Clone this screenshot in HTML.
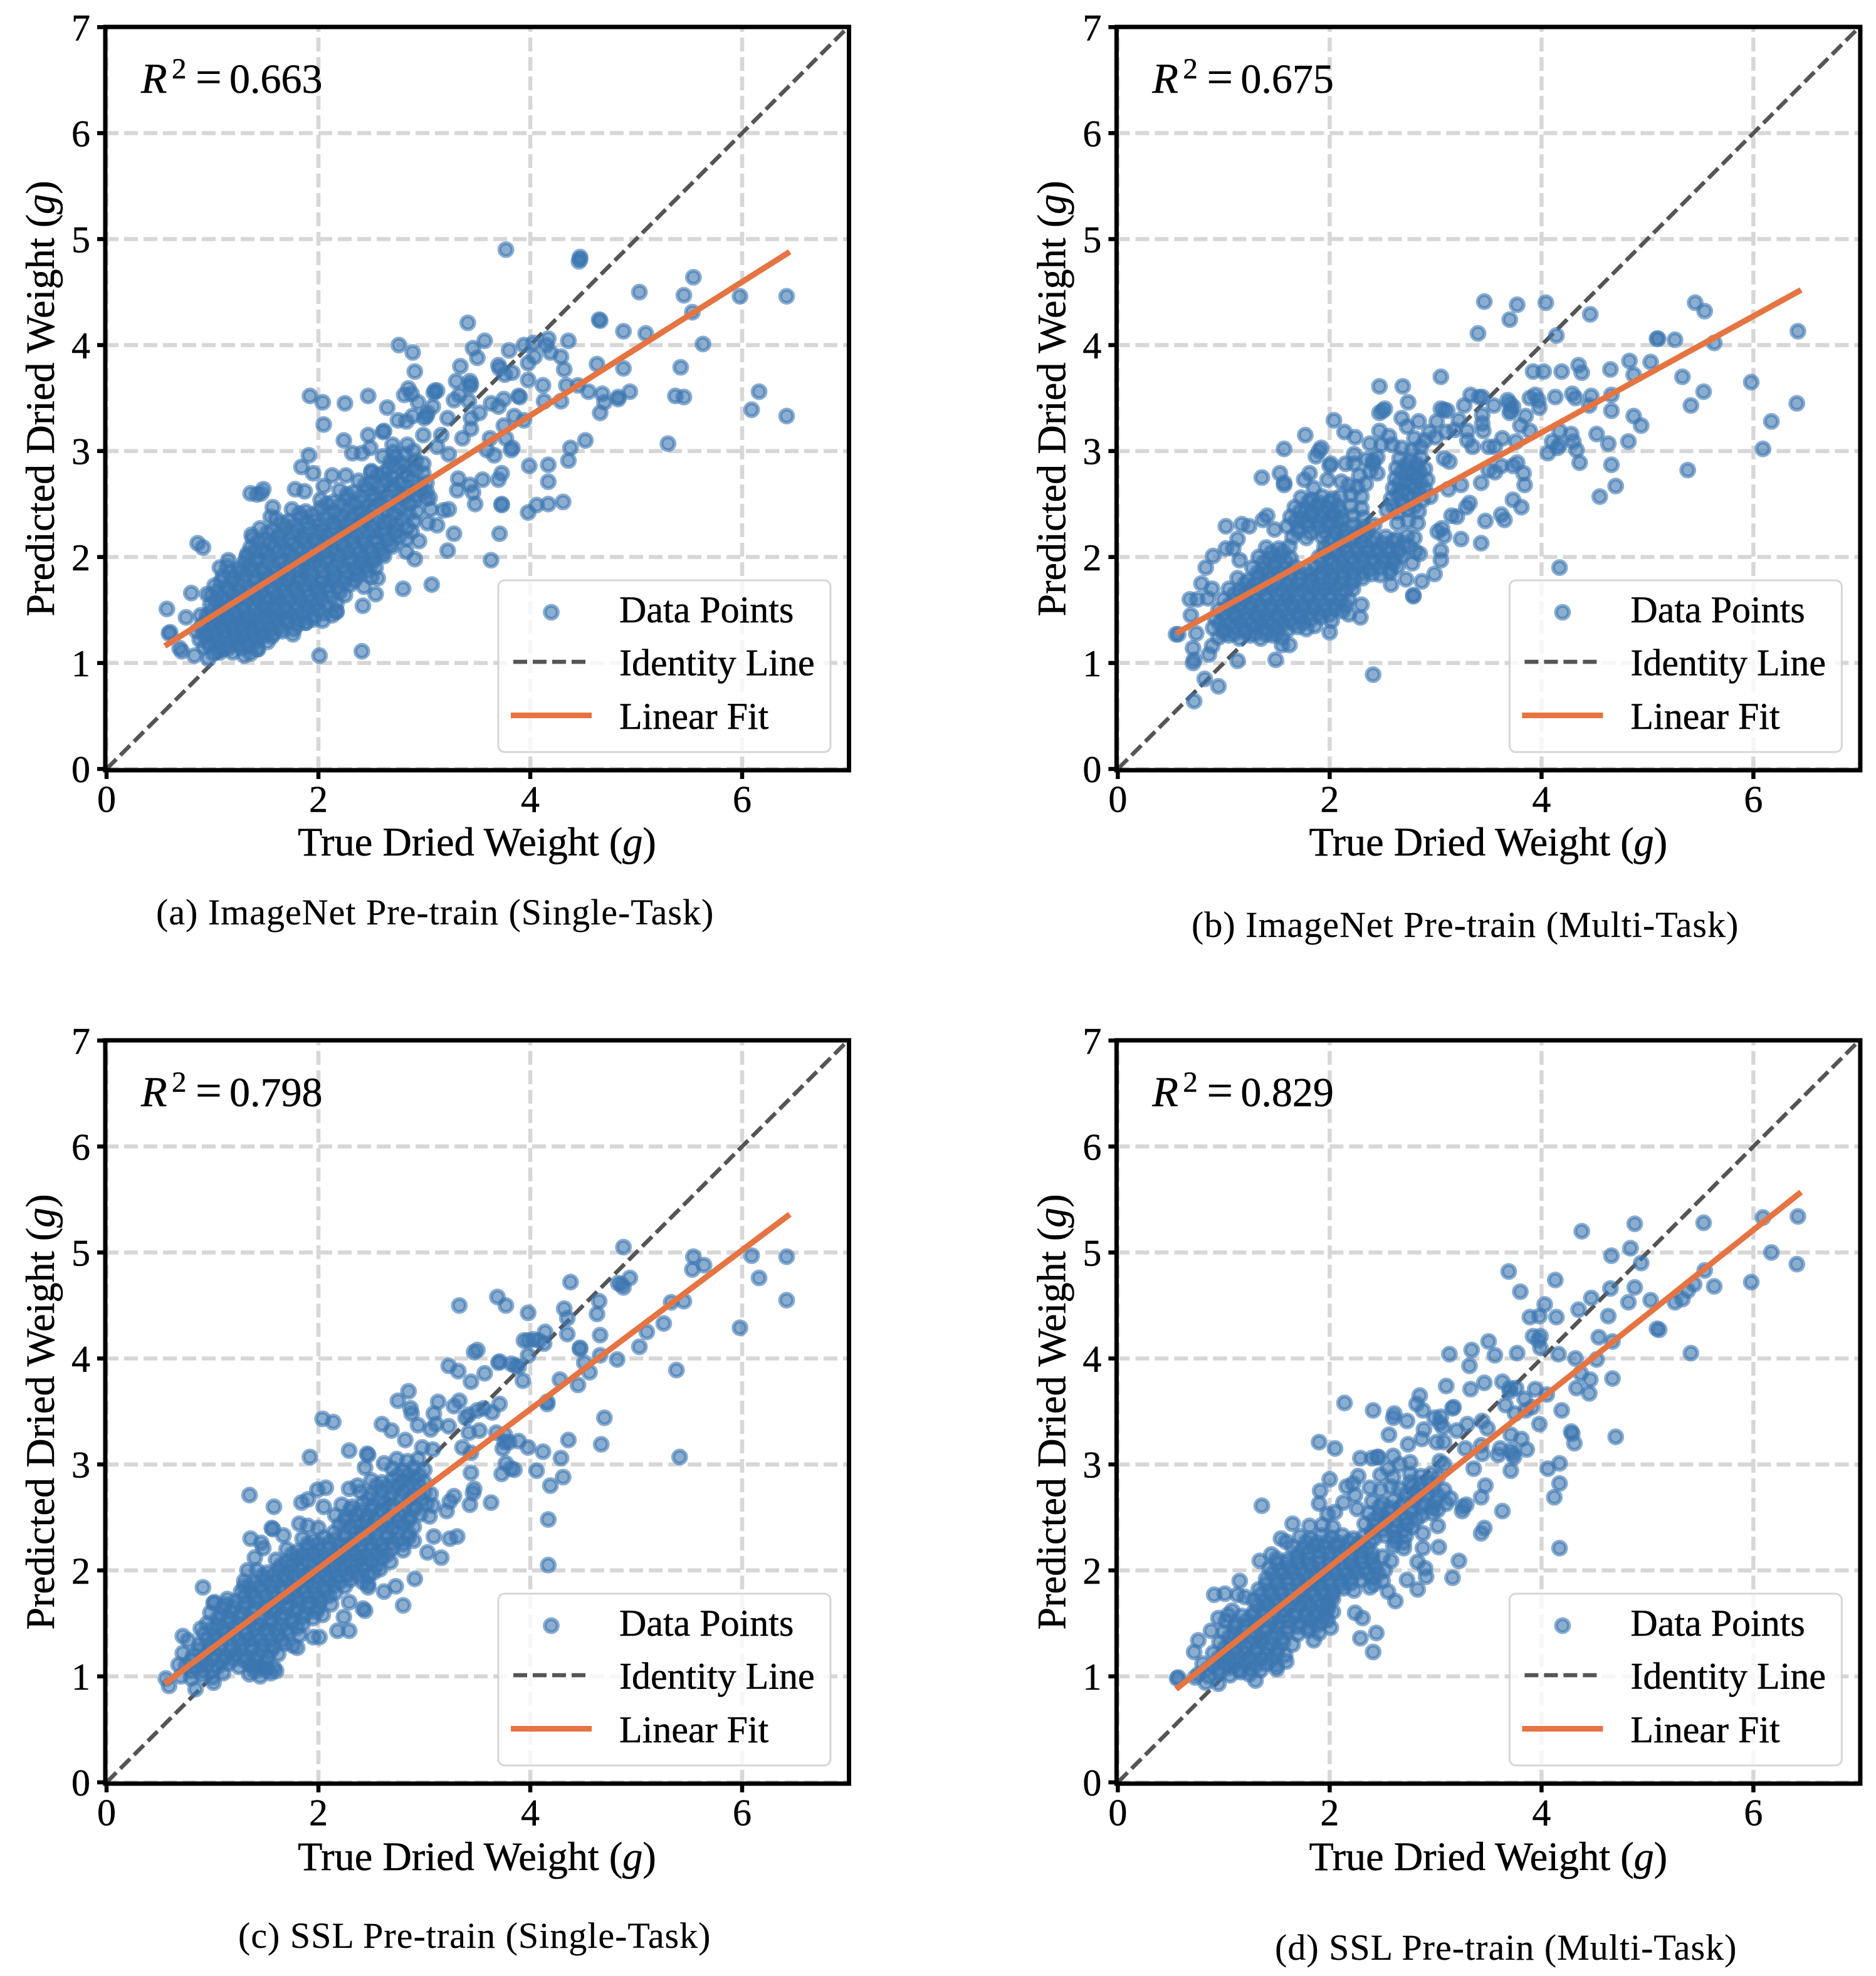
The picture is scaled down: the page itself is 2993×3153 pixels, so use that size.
<!DOCTYPE html>
<html lang="en">
<head>
<meta charset="utf-8">
<title>Predicted vs true dried weight</title>
<style>
html,body{margin:0;padding:0;background:#fff;}
svg{display:block;}
text{font-family:"Liberation Serif","Times New Roman",serif;fill:#000;stroke:#000;stroke-width:0.5px;}
.lab{font-size:64.3px;}
.leg{font-size:60px;}
.cap{font-size:58px;letter-spacing:1px;stroke-width:0.2px;}
.r2{font-size:66px;}
</style>
</head>
<body>
<svg xmlns="http://www.w3.org/2000/svg" width="2993" height="3153" viewBox="0 0 2993 3153">
<rect width="2993" height="3153" fill="#fff"/>

<g id="panel-a">
<g class="under"></g>
<text class="r2" y="148"><tspan x="225" font-style="italic" font-size="68">R</tspan><tspan x="274" y="125" font-size="47">2</tspan><tspan x="312" y="148" font-size="74">=</tspan><tspan x="366" y="148">0.663</tspan></text>
<text class="lab" x="761" y="1365" text-anchor="middle">True Dried Weight (<tspan font-style="italic">g</tspan>)</text>
<text class="lab" transform="translate(86,636) rotate(-90)" text-anchor="middle">Predicted Dried Weight (<tspan font-style="italic">g</tspan>)</text>
<g>
<rect x="795" y="926" width="530" height="274" rx="10" fill="#fff" fill-opacity="0.8" stroke="#ccc" stroke-opacity="0.8" stroke-width="3"/>
<circle cx="879.5" cy="977" r="10.3" fill="#3c77b1" fill-opacity="0.6" stroke="#3c77b1" stroke-opacity="0.6" stroke-width="6.2"/>
<line x1="819" y1="1056" x2="935" y2="1056" stroke="#555" stroke-width="6.5" stroke-dasharray="22 9"/>
<line x1="815" y1="1141.5" x2="944" y2="1141.5" stroke="#e57442" stroke-width="9"/>
<text class="leg" x="988" y="993">Data Points</text>
<text class="leg" x="988" y="1077.5">Identity Line</text>
<text class="leg" x="988" y="1163">Linear Fit</text>
</g>
</g>

<g id="panel-b" transform="translate(1613.4,0)">
<g class="under"></g>
<text class="r2" y="148"><tspan x="225" font-style="italic" font-size="68">R</tspan><tspan x="274" y="125" font-size="47">2</tspan><tspan x="312" y="148" font-size="74">=</tspan><tspan x="366" y="148">0.675</tspan></text>
<text class="lab" x="761" y="1365" text-anchor="middle">True Dried Weight (<tspan font-style="italic">g</tspan>)</text>
<text class="lab" transform="translate(86,636) rotate(-90)" text-anchor="middle">Predicted Dried Weight (<tspan font-style="italic">g</tspan>)</text>
<g>
<rect x="795" y="926" width="530" height="274" rx="10" fill="#fff" fill-opacity="0.8" stroke="#ccc" stroke-opacity="0.8" stroke-width="3"/>
<circle cx="879.5" cy="977" r="10.3" fill="#3c77b1" fill-opacity="0.6" stroke="#3c77b1" stroke-opacity="0.6" stroke-width="6.2"/>
<line x1="819" y1="1056" x2="935" y2="1056" stroke="#555" stroke-width="6.5" stroke-dasharray="22 9"/>
<line x1="815" y1="1141.5" x2="944" y2="1141.5" stroke="#e57442" stroke-width="9"/>
<text class="leg" x="988" y="993">Data Points</text>
<text class="leg" x="988" y="1077.5">Identity Line</text>
<text class="leg" x="988" y="1163">Linear Fit</text>
</g>
</g>

<g id="panel-c" transform="translate(0,1617)">
<g class="under"></g>
<text class="r2" y="148"><tspan x="225" font-style="italic" font-size="68">R</tspan><tspan x="274" y="125" font-size="47">2</tspan><tspan x="312" y="148" font-size="74">=</tspan><tspan x="366" y="148">0.798</tspan></text>
<text class="lab" x="761" y="1367" text-anchor="middle">True Dried Weight (<tspan font-style="italic">g</tspan>)</text>
<text class="lab" transform="translate(86,636) rotate(-90)" text-anchor="middle">Predicted Dried Weight (<tspan font-style="italic">g</tspan>)</text>
<g>
<rect x="795" y="926" width="530" height="274" rx="10" fill="#fff" fill-opacity="0.8" stroke="#ccc" stroke-opacity="0.8" stroke-width="3"/>
<circle cx="879.5" cy="977" r="10.3" fill="#3c77b1" fill-opacity="0.6" stroke="#3c77b1" stroke-opacity="0.6" stroke-width="6.2"/>
<line x1="819" y1="1056" x2="935" y2="1056" stroke="#555" stroke-width="6.5" stroke-dasharray="22 9"/>
<line x1="815" y1="1141.5" x2="944" y2="1141.5" stroke="#e57442" stroke-width="9"/>
<text class="leg" x="988" y="993">Data Points</text>
<text class="leg" x="988" y="1077.5">Identity Line</text>
<text class="leg" x="988" y="1163">Linear Fit</text>
</g>
</g>

<g id="panel-d" transform="translate(1613.4,1617)">
<g class="under"></g>
<text class="r2" y="148"><tspan x="225" font-style="italic" font-size="68">R</tspan><tspan x="274" y="125" font-size="47">2</tspan><tspan x="312" y="148" font-size="74">=</tspan><tspan x="366" y="148">0.829</tspan></text>
<text class="lab" x="761" y="1367" text-anchor="middle">True Dried Weight (<tspan font-style="italic">g</tspan>)</text>
<text class="lab" transform="translate(86,636) rotate(-90)" text-anchor="middle">Predicted Dried Weight (<tspan font-style="italic">g</tspan>)</text>
<g>
<rect x="795" y="926" width="530" height="274" rx="10" fill="#fff" fill-opacity="0.8" stroke="#ccc" stroke-opacity="0.8" stroke-width="3"/>
<circle cx="879.5" cy="977" r="10.3" fill="#3c77b1" fill-opacity="0.6" stroke="#3c77b1" stroke-opacity="0.6" stroke-width="6.2"/>
<line x1="819" y1="1056" x2="935" y2="1056" stroke="#555" stroke-width="6.5" stroke-dasharray="22 9"/>
<line x1="815" y1="1141.5" x2="944" y2="1141.5" stroke="#e57442" stroke-width="9"/>
<text class="leg" x="988" y="993">Data Points</text>
<text class="leg" x="988" y="1077.5">Identity Line</text>
<text class="leg" x="988" y="1163">Linear Fit</text>
</g>
</g>

<text class="cap" x="249" y="1475">(a) ImageNet Pre-train (Single-Task)</text>
<text class="cap" x="1901" y="1495">(b) ImageNet Pre-train (Multi-Task)</text>
<text class="cap" x="380" y="3108">(c) SSL Pre-train (Single-Task)</text>
<text class="cap" x="2034" y="3127">(d) SSL Pre-train (Multi-Task)</text>
</svg>

<script>
const xTickLabels=[0,2,4,6];
const yTickLabels=[0,1,2,3,4,5,6,7];
const identityLine=[0,7];
const fitX=[0.55,6.45];
const fitYA=[1.16,4.88];
const fitYB=[1.28,4.52];
const fitYC=[0.93,5.36];
const fitYD=[0.88,5.57];

const pointsA=[
[3.77,4.90],[4.47,4.81],[4.47,4.83],[4.46,4.79],[5.03,4.50],[4.65,4.24],[4.66,4.23],[4.88,4.13],[5.09,4.11],[3.41,4.21],[3.57,4.04],[3.46,3.97],[3.50,3.88],[2.76,4.00],[2.89,3.93],[2.91,3.75],[3.34,3.80],[3.30,3.66],[3.43,3.66],[3.44,3.63],[3.43,3.61],[2.85,3.59],[2.81,3.53],[2.88,3.54],[2.94,3.46],[3.10,3.57],[3.09,3.55],[3.12,3.57],[1.92,3.52],[2.04,3.46],[2.25,3.45],[2.47,3.52],[2.65,3.41],[2.05,3.25],[2.24,3.10],[2.47,3.15],[2.62,3.19],[2.61,3.18],[2.75,3.29],[2.83,3.28],[2.89,3.33],[3.02,3.33],[3.00,3.31],[3.03,3.36],[3.08,3.42],[3.22,3.31],[3.28,3.48],[3.33,3.53],[3.42,3.47],[3.44,3.31],[3.44,3.21],[3.36,3.12],[3.52,3.36],[3.63,3.45],[3.70,3.42],[3.75,3.49],[3.70,3.81],[3.71,3.78],[3.76,3.72],[3.83,3.74],[3.80,3.95],[3.94,4.00],[4.03,4.02],[4.17,4.06],[4.15,4.00],[4.04,3.89],[3.98,3.83],[4.19,3.93],[4.29,3.89],[4.32,3.77],[4.36,4.04],[3.98,3.67],[4.12,3.62],[4.13,3.47],[3.89,3.52],[3.90,3.51],[3.85,3.33],[3.75,3.24],[3.94,3.29],[4.63,3.82],[4.88,3.78],[4.34,3.62],[4.45,3.62],[4.55,3.56],[4.29,3.47],[4.68,3.54],[4.70,3.46],[4.66,3.36],[4.83,3.51],[4.83,3.49],[4.94,3.56],[4.52,3.10],[4.38,3.03],[4.36,2.91],[3.77,3.12],[3.62,3.12],[3.83,3.03],[3.82,3.01],[3.59,3.01],[3.66,2.96],[3.73,2.79],[3.70,2.73],[3.55,2.73],[3.99,2.86],[4.17,2.87],[4.17,2.71],[4.06,2.49],[4.17,2.50],[4.31,2.52],[3.98,2.42],[3.73,2.50],[3.73,2.49],[3.48,2.50],[3.46,2.61],[3.43,2.68],[3.31,2.63],[3.32,2.74],[3.71,2.22],[3.63,1.97],[3.28,2.22],[3.22,2.06],[2.91,1.98],[2.83,2.05],[2.80,1.70],[3.07,1.74],[2.54,1.65],[2.42,1.54],[2.56,1.80],[2.01,1.07],[2.41,1.11],[0.57,1.51],[0.80,1.66],[0.86,2.13],[0.91,2.09],[1.36,2.60],[1.42,2.59],[1.48,2.64],[1.46,2.60],[1.15,1.97],[1.07,1.90],[1.33,2.03],[1.37,2.21],[1.57,2.47],[1.55,2.38],[1.78,2.64],[1.87,2.62],[1.84,2.85],[1.91,2.96],[1.95,2.79],[2.13,2.77],[2.26,2.77],[2.05,2.67],[2.32,2.98],[2.41,2.98],[2.49,3.03],[2.70,3.06],[2.84,3.06],[2.99,3.15],[3.16,3.15],[2.61,2.95],[2.73,2.94],[3.23,2.97],[3.12,3.04],[2.50,2.80],[2.61,2.79],[3.23,2.45],[3.18,2.44],[3.05,2.56],[3.06,2.45],[3.03,2.32],[3.12,2.30],[2.95,2.15],[2.88,2.24],[2.17,1.49],[2.17,1.48],[2.04,1.40],[1.95,1.41],[1.88,1.38],[1.77,1.32],[1.56,1.25],[1.43,1.13],[1.30,1.07],[0.96,1.04],[0.83,1.07],[1.07,1.10],[0.71,1.11],[0.69,1.14],[0.59,1.28],[0.60,1.29],[0.75,1.43],[0.89,1.45],[0.95,1.65],
[5.45,4.47],[5.54,4.64],[5.53,4.31],[5.63,4.01],[5.98,4.46],[6.42,4.46],[6.42,3.33],[6.16,3.56],[6.09,3.39],[5.37,3.52],[5.45,3.51],[5.42,3.79],[5.30,3.07],
[0.92,1.15],[1.01,1.09],[1.10,1.13],[1.19,1.10],[1.28,1.14],[1.36,1.09],[1.42,1.13],
[0.88,1.22],[0.97,1.19],[1.06,1.21],[1.15,1.18],[1.24,1.22],[1.33,1.19],[1.42,1.21],[1.52,1.20],
[0.85,1.30],[0.94,1.27],[1.03,1.29],[1.12,1.30],[1.21,1.27],[1.30,1.30],[1.39,1.27],[1.48,1.29],[1.57,1.27],[1.66,1.30],[1.76,1.27],
[0.90,1.36],[0.99,1.38],[1.08,1.36],[1.17,1.39],[1.26,1.36],[1.35,1.38],[1.44,1.36],[1.53,1.38],[1.62,1.36],[1.71,1.39],[1.80,1.36],[1.88,1.38],
[0.95,1.45],[1.05,1.47],[1.14,1.45],[1.24,1.47],[1.35,1.44],[1.45,1.47],[1.55,1.45],[1.64,1.47],[1.75,1.45],[1.85,1.47],[1.95,1.44],[2.05,1.47],[2.13,1.45],
[0.98,1.55],[1.08,1.53],[1.18,1.56],[1.28,1.54],[1.38,1.56],[1.48,1.53],[1.58,1.55],[1.68,1.53],[1.78,1.56],[1.88,1.54],[1.98,1.56],[2.08,1.54],[2.17,1.56],
[0.99,1.64],[1.09,1.62],[1.20,1.65],[1.30,1.63],[1.40,1.65],[1.50,1.62],[1.61,1.64],[1.71,1.62],[1.81,1.65],[1.91,1.63],[2.01,1.65],[2.12,1.62],[2.25,1.64],
[1.02,1.73],[1.13,1.71],[1.24,1.74],[1.34,1.71],[1.45,1.73],[1.55,1.71],[1.66,1.74],[1.76,1.72],[1.87,1.74],[1.97,1.71],[2.08,1.73],[2.18,1.71],[2.30,1.74],[2.43,1.72],
[1.10,1.82],[1.20,1.80],[1.31,1.83],[1.41,1.80],[1.52,1.82],[1.62,1.80],[1.73,1.83],[1.83,1.81],[1.94,1.83],[2.04,1.80],[2.15,1.82],[2.26,1.80],[2.38,1.83],[2.50,1.81],
[1.14,1.91],[1.25,1.89],[1.36,1.92],[1.47,1.89],[1.58,1.91],[1.69,1.89],[1.80,1.92],[1.91,1.90],[2.02,1.92],[2.13,1.89],[2.24,1.91],[2.35,1.89],[2.45,1.92],[2.54,1.90],
[1.32,2.00],[1.43,1.98],[1.54,2.01],[1.65,1.98],[1.76,2.00],[1.87,1.98],[1.98,2.01],[2.09,1.99],[2.20,2.01],[2.31,1.98],[2.42,2.00],[2.53,1.98],[2.62,2.01],
[1.36,2.09],[1.47,2.07],[1.58,2.10],[1.69,2.07],[1.80,2.09],[1.91,2.07],[2.02,2.10],[2.13,2.08],[2.24,2.10],[2.35,2.07],[2.46,2.09],[2.58,2.07],[2.70,2.10],
[1.38,2.18],[1.50,2.16],[1.62,2.19],[1.73,2.16],[1.85,2.18],[1.96,2.16],[2.08,2.19],[2.19,2.17],[2.31,2.19],[2.42,2.16],[2.54,2.18],[2.65,2.16],[2.76,2.19],[2.83,2.17],
[1.45,2.27],[1.57,2.25],[1.69,2.28],[1.80,2.25],[1.92,2.27],[2.04,2.25],[2.16,2.28],[2.28,2.26],[2.40,2.28],[2.52,2.25],[2.63,2.27],[2.74,2.25],[2.84,2.28],
[1.60,2.36],[1.72,2.34],[1.84,2.37],[1.96,2.34],[2.08,2.36],[2.20,2.34],[2.32,2.37],[2.44,2.35],[2.56,2.37],[2.67,2.34],[2.79,2.36],[2.90,2.34],
[1.75,2.45],[1.88,2.43],[2.02,2.46],[2.15,2.43],[2.28,2.45],[2.40,2.43],[2.53,2.46],[2.65,2.44],[2.78,2.46],[2.93,2.43],
[2.02,2.54],[2.14,2.52],[2.27,2.55],[2.40,2.52],[2.53,2.54],[2.66,2.52],[2.79,2.55],[2.91,2.53],[3.02,2.55],
[2.20,2.63],[2.33,2.61],[2.46,2.64],[2.59,2.61],[2.72,2.63],[2.85,2.61],[2.97,2.64],[3.02,2.62],
[2.38,2.72],[2.50,2.70],[2.63,2.73],[2.76,2.70],[2.89,2.72],[3.02,2.70],
[2.50,2.81],[2.66,2.83],[2.80,2.80],[2.92,2.82],[2.99,2.79],
[2.68,2.90],[2.80,2.88],[2.92,2.91],[2.99,2.88],
[2.71,2.99],[2.82,2.97],[2.90,3.00]
];
const pointsACore=[
[0.97,1.17],[1.06,1.15],[1.15,1.14],[1.24,1.17],[1.33,1.16],
[0.93,1.25],[1.02,1.25],[1.11,1.24],[1.20,1.25],[1.29,1.25],[1.38,1.24],[1.47,1.25],
[0.90,1.33],[1.00,1.33],[1.10,1.34],[1.19,1.33],[1.28,1.33],[1.37,1.33],[1.46,1.33],[1.55,1.32],[1.64,1.33],
[0.95,1.41],[1.04,1.42],[1.13,1.41],[1.22,1.42],[1.31,1.41],[1.40,1.41],[1.50,1.42],[1.59,1.41],[1.69,1.42],[1.80,1.41],
[1.00,1.50],[1.10,1.50],[1.20,1.49],[1.30,1.50],[1.40,1.51],[1.50,1.50],[1.60,1.50],[1.70,1.49],[1.80,1.51],[1.90,1.50],[2.00,1.50],
[1.03,1.59],[1.13,1.58],[1.23,1.60],[1.33,1.59],[1.43,1.60],[1.53,1.58],[1.63,1.60],[1.73,1.59],[1.83,1.60],[1.93,1.58],[2.03,1.60],
[1.05,1.68],[1.15,1.68],[1.25,1.68],[1.36,1.67],[1.47,1.68],[1.57,1.67],[1.68,1.68],[1.78,1.67],[1.89,1.69],[2.00,1.68],[2.10,1.68],[2.20,1.67],
[1.08,1.77],[1.18,1.77],[1.29,1.78],[1.40,1.77],[1.50,1.77],[1.61,1.76],[1.71,1.78],[1.82,1.77],[1.92,1.77],[2.03,1.76],[2.13,1.78],[2.24,1.76],[2.34,1.78],
[1.17,1.86],[1.27,1.86],[1.38,1.87],[1.49,1.85],[1.60,1.86],[1.71,1.85],[1.82,1.87],[1.93,1.86],[2.04,1.87],[2.15,1.85],[2.26,1.86],[2.37,1.85],[2.46,1.87],
[1.30,1.95],[1.41,1.95],[1.52,1.96],[1.63,1.94],[1.74,1.95],[1.85,1.94],[1.96,1.96],[2.07,1.95],[2.18,1.96],[2.29,1.94],[2.40,1.95],[2.50,1.94],
[1.40,2.05],[1.51,2.04],[1.62,2.05],[1.73,2.03],[1.84,2.05],[1.95,2.04],[2.06,2.05],[2.17,2.03],[2.28,2.05],[2.39,2.04],[2.50,2.05],[2.60,2.03],
[1.43,2.14],[1.54,2.13],[1.65,2.14],[1.76,2.12],[1.88,2.14],[1.99,2.13],[2.11,2.14],[2.22,2.12],[2.33,2.14],[2.44,2.13],[2.56,2.14],[2.68,2.12],
[1.52,2.23],[1.64,2.22],[1.76,2.23],[1.88,2.21],[2.00,2.23],[2.12,2.22],[2.24,2.23],[2.36,2.21],[2.48,2.23],[2.60,2.22],[2.72,2.23],
[1.66,2.32],[1.78,2.30],[1.90,2.32],[2.02,2.30],[2.14,2.32],[2.26,2.31],[2.38,2.32],[2.50,2.30],[2.62,2.32],[2.74,2.31],
[1.82,2.41],[1.95,2.40],[2.09,2.41],[2.22,2.39],[2.34,2.41],[2.47,2.39],[2.60,2.41],[2.72,2.40],[2.85,2.41],
[2.08,2.50],[2.21,2.49],[2.34,2.50],[2.47,2.48],[2.60,2.50],[2.73,2.49],[2.86,2.50],
[2.27,2.59],[2.40,2.57],[2.53,2.59],[2.66,2.57],[2.79,2.59],[2.92,2.58],
[2.44,2.68],[2.57,2.66],[2.70,2.68],[2.83,2.66],[2.95,2.68],
[2.56,2.77],[2.70,2.75],[2.84,2.77],[2.72,2.86],[2.86,2.85]
];

const pointsB=[
[3.46,4.41],[3.77,4.38],[4.04,4.40],[3.70,4.24],[4.46,4.29],[3.40,4.11],[4.14,4.09],[5.09,4.06],[3.05,3.70],[2.47,3.61],[2.69,3.61],[2.74,3.46],[2.47,3.36],[2.52,3.40],[2.50,3.38],[2.68,3.31],[2.73,3.23],[2.84,3.28],[3.05,3.40],[3.11,3.38],[3.08,3.39],[3.01,3.28],[3.22,3.29],[3.27,3.43],[3.33,3.53],[3.41,3.51],[3.44,3.51],[3.55,3.43],[3.44,3.34],[3.44,3.26],[3.45,3.19],[3.30,3.19],[3.30,3.10],[3.35,3.04],[3.68,3.48],[3.70,3.45],[3.73,3.42],[3.70,3.36],[3.71,3.38],[3.85,3.33],[3.80,3.24],[3.89,3.19],[3.89,3.50],[3.94,3.53],[3.97,3.48],[3.98,3.41],[4.13,3.51],[3.92,3.75],[4.02,3.75],[4.19,3.75],[4.35,3.81],[4.38,3.74],[4.65,3.77],[4.83,3.85],[4.87,3.72],[5.03,3.84],[4.29,3.54],[4.32,3.50],[4.47,3.52],[4.45,3.43],[4.66,3.53],[4.66,3.38],[4.87,3.33],[4.94,3.24],[4.52,3.16],[4.63,3.07],[4.82,3.09],[4.66,2.87],[4.70,2.67],[4.55,2.57],[4.17,3.19],[4.10,3.09],[4.17,3.06],[4.15,3.03],[4.06,2.98],[4.28,3.16],[4.30,3.09],[4.33,3.01],[4.36,2.89],[3.76,3.09],[3.63,3.12],[3.56,3.04],[3.50,3.04],[3.77,2.89],[3.73,2.86],[3.62,2.86],[3.56,2.80],[3.50,2.82],[3.83,2.79],[3.84,2.68],[3.43,2.70],[3.24,2.68],[3.12,2.64],[3.73,2.54],[3.81,2.47],[3.62,2.40],[3.65,2.35],[3.47,2.34],[3.32,2.51],[3.29,2.47],[3.15,2.39],[3.20,2.38],[3.24,2.17],[3.43,2.13],[3.06,2.27],[3.02,2.24],[3.08,2.20],[3.05,2.06],[3.05,1.97],[2.85,2.03],[2.81,2.05],[2.78,1.94],[2.99,1.84],[2.87,1.77],[2.72,1.79],[2.58,1.74],[2.79,1.63],[2.79,1.64],[2.30,1.55],[2.18,1.46],[2.29,1.43],[2.00,1.29],[1.86,1.35],[1.55,1.17],[1.62,1.17],[1.49,1.03],[1.13,1.02],[0.86,1.08],[0.89,1.16],[0.71,1.00],[0.72,1.03],[0.71,1.14],[0.82,0.85],[0.95,0.78],[0.72,0.64],[2.41,0.89],[4.17,1.90],[0.57,1.27],[0.55,1.27],[0.74,1.28],[0.69,1.45],[0.68,1.60],[0.75,1.60],[0.85,1.61],[0.79,1.75],[0.89,1.70],[0.83,1.90],[0.90,2.01],[1.02,2.08],[1.09,2.08],[1.02,2.29],[1.17,2.31],[1.24,2.29],[1.13,2.17],[1.15,1.97],[1.41,2.39],[1.37,2.35],[1.48,2.26],[1.36,2.75],[1.53,2.79],[1.57,2.70],[1.57,2.68],[1.57,3.02],[1.77,3.15],[1.92,3.03],[1.87,2.95],[1.90,3.00],[2.01,2.88],[2.00,2.86],[2.15,2.88],[2.23,2.97],[2.23,2.88],[2.04,3.29],[2.14,3.18],[2.24,3.13],[2.38,3.07],[2.49,3.06],[2.56,3.14],[2.47,3.19],[2.59,3.06],[2.41,2.91],[2.41,2.88],[1.81,2.79],[1.76,2.73],[1.98,2.73],[2.11,2.71],[1.85,2.65],[2.28,2.77],
[5.45,4.40],[5.54,4.32],[5.10,4.06],[5.26,4.05],[5.63,4.02],[6.42,4.13],[5.33,3.70],[5.98,3.65],[5.53,3.56],[5.41,3.43],[6.41,3.45],[6.17,3.28],[6.09,3.02],[5.38,2.82],
[0.95,1.24],[1.05,1.26],[1.15,1.23],[1.25,1.26],[1.35,1.23],[1.46,1.26],[1.55,1.24],
[0.90,1.33],[1.00,1.31],[1.10,1.34],[1.20,1.32],[1.30,1.34],[1.40,1.31],[1.50,1.33],[1.60,1.31],[1.70,1.34],[1.78,1.32],
[0.92,1.42],[1.02,1.40],[1.12,1.43],[1.22,1.41],[1.32,1.43],[1.42,1.40],[1.52,1.42],[1.62,1.40],[1.72,1.43],[1.82,1.41],[1.92,1.43],[2.02,1.40],
[0.95,1.50],[1.05,1.52],[1.15,1.49],[1.25,1.52],[1.35,1.49],[1.45,1.51],[1.55,1.49],[1.65,1.52],[1.75,1.50],[1.85,1.52],[1.95,1.49],[2.05,1.51],[2.12,1.49],
[1.00,1.60],[1.10,1.58],[1.20,1.61],[1.30,1.59],[1.40,1.61],[1.50,1.58],[1.60,1.60],[1.70,1.58],[1.80,1.61],[1.90,1.59],[2.00,1.61],[2.10,1.58],[2.18,1.60],
[1.05,1.70],[1.15,1.68],[1.25,1.71],[1.35,1.69],[1.45,1.71],[1.55,1.68],[1.65,1.70],[1.75,1.68],[1.85,1.71],[1.95,1.69],[2.05,1.71],[2.15,1.68],[2.22,1.70],
[1.13,1.80],[1.23,1.78],[1.33,1.81],[1.43,1.79],[1.53,1.81],[1.63,1.78],[1.73,1.80],[1.83,1.78],[1.93,1.81],[2.03,1.79],[2.13,1.81],[2.23,1.78],[2.31,1.80],[2.48,1.83],[2.57,1.85],
[1.27,1.90],[1.37,1.88],[1.47,1.91],[1.57,1.89],[1.67,1.91],[1.77,1.88],[1.87,1.90],[1.97,1.88],[2.07,1.91],[2.17,1.89],[2.27,1.91],[2.37,1.88],[2.47,1.90],[2.57,1.88],[2.64,1.91],
[1.33,2.00],[1.43,1.98],[1.53,2.01],[1.63,1.99],[1.90,2.00],[2.00,1.98],[2.10,2.01],[2.20,1.99],[2.30,2.01],[2.40,1.98],[2.50,2.00],[2.60,1.98],[2.68,2.01],
[1.40,2.09],[1.52,2.08],[1.62,2.10],[1.95,2.09],[2.05,2.07],[2.15,2.10],[2.25,2.08],[2.35,2.10],[2.45,2.07],[2.55,2.09],[2.65,2.07],[2.75,2.10],
[1.65,2.19],[1.78,2.18],[1.93,2.19],[2.03,2.17],[2.13,2.20],[2.23,2.18],[2.33,2.20],[2.43,2.17],[2.53,2.19],[2.63,2.17],[2.73,2.20],[2.80,2.18],
[1.60,2.29],[1.70,2.27],[1.80,2.30],[1.90,2.28],[2.00,2.30],[2.10,2.27],[2.22,2.30],[2.32,2.28],[2.42,2.30],[2.64,2.32],[2.74,2.34],[2.83,2.32],
[1.63,2.38],[1.73,2.36],[1.83,2.39],[1.93,2.37],[2.03,2.39],[2.12,2.36],[2.22,2.39],[2.32,2.37],[2.54,2.44],[2.64,2.42],[2.74,2.45],[2.84,2.43],
[1.67,2.47],[1.78,2.45],[1.88,2.48],[1.98,2.46],[2.08,2.48],[2.20,2.48],[2.30,2.46],
[1.73,2.56],[1.83,2.54],[1.93,2.57],[2.03,2.55],[2.10,2.57],[2.20,2.59],[2.30,2.57],[2.58,2.55],[2.68,2.53],[2.78,2.56],[2.88,2.54],[2.95,2.57],
[2.18,2.68],[2.26,2.66],[2.34,2.69],[2.60,2.65],[2.70,2.63],[2.80,2.66],[2.90,2.64],[2.62,2.74],[2.72,2.72],[2.82,2.75],[2.92,2.73],
[2.38,2.81],[2.45,2.79],[2.63,2.84],[2.73,2.82],[2.83,2.85],[2.90,2.83],[2.35,2.92],[2.45,2.94],[2.66,2.93],[2.76,2.91],[2.86,2.94],[3.08,2.93],[3.13,2.90],
[2.68,3.03],[2.78,3.01],[2.86,3.04],[2.80,3.12],[2.90,3.10],[3.00,3.13],[3.10,3.18],[3.18,3.20],[2.94,3.18]
];
const pointsBCore=[
[1.00,1.28],[1.10,1.28],[1.20,1.29],[1.30,1.28],[1.40,1.27],[1.50,1.28],
[0.96,1.37],[1.06,1.37],[1.16,1.38],[1.26,1.37],[1.36,1.38],[1.46,1.36],[1.56,1.37],[1.66,1.37],[1.75,1.38],
[1.00,1.46],[1.10,1.46],[1.20,1.47],[1.30,1.46],[1.40,1.46],[1.50,1.45],[1.60,1.46],[1.70,1.46],[1.80,1.47],[1.90,1.46],[2.00,1.46],
[1.05,1.55],[1.15,1.55],[1.25,1.56],[1.35,1.54],[1.45,1.55],[1.55,1.54],[1.65,1.55],[1.75,1.54],[1.85,1.56],[1.95,1.55],[2.05,1.55],[2.15,1.54],
[1.10,1.65],[1.20,1.65],[1.30,1.66],[1.40,1.64],[1.50,1.65],[1.60,1.64],[1.70,1.65],[1.80,1.64],[1.90,1.66],[2.00,1.65],[2.10,1.65],
[1.20,1.75],[1.30,1.75],[1.40,1.76],[1.50,1.74],[1.60,1.75],[1.70,1.74],[1.80,1.75],[1.90,1.74],[2.00,1.76],[2.10,1.75],[2.20,1.75],
[1.32,1.85],[1.42,1.85],[1.52,1.86],[1.62,1.84],[1.72,1.85],[1.82,1.84],[1.92,1.85],[2.02,1.84],[2.12,1.86],[2.22,1.85],[2.32,1.85],[2.40,1.84],
[1.38,1.95],[1.48,1.95],[1.58,1.96],[1.92,1.95],[2.02,1.94],[2.12,1.95],[2.22,1.94],[2.32,1.96],[2.42,1.95],[2.52,1.95],[2.60,1.94],
[1.45,2.04],[1.56,2.05],[1.96,2.04],[2.06,2.03],[2.16,2.05],[2.26,2.04],[2.36,2.05],[2.46,2.03],[2.56,2.05],[2.65,2.04],
[2.00,2.14],[2.10,2.13],[2.20,2.15],[2.30,2.14],[2.40,2.14],[2.50,2.13],[2.60,2.15],[2.70,2.13],
[1.70,2.24],[1.82,2.23],[1.95,2.24],[2.05,2.23],[2.15,2.25],[2.27,2.24],[2.36,2.25],
[1.68,2.34],[1.78,2.33],[1.88,2.34],[1.98,2.33],[2.08,2.34],[1.72,2.43],[1.83,2.42],[1.93,2.43],[2.03,2.42],[2.10,2.43],[1.80,2.52],[1.90,2.51],[2.00,2.52],
[2.60,2.48],[2.70,2.49],[2.80,2.48],[2.64,2.60],[2.74,2.59],[2.84,2.60],[2.66,2.70],[2.76,2.69],[2.86,2.70],[2.68,2.80],[2.78,2.78],[2.85,2.80],[2.72,2.87],[2.82,2.88]
];

const pointsC=[
[4.88,5.05],[4.38,4.72],[4.94,4.76],[4.83,4.71],[4.88,4.67],[4.86,4.70],[3.33,4.50],[3.69,4.58],[3.77,4.50],[3.98,4.43],[4.32,4.47],[4.35,4.38],[4.65,4.54],[4.63,4.42],[4.14,4.25],[3.94,4.17],[3.98,4.17],[4.03,4.18],[4.08,4.17],[4.13,4.14],[4.35,4.23],[4.66,4.22],[5.10,4.25],[5.03,4.11],[4.47,4.10],[4.47,4.09],[4.66,4.03],[4.82,3.99],[3.47,4.06],[3.50,4.08],[3.98,4.03],[3.71,3.97],[3.70,3.96],[3.82,3.95],[3.86,3.93],[3.89,3.92],[3.23,3.93],[3.32,3.88],[3.57,3.86],[3.44,3.78],[3.93,3.79],[4.51,3.96],[4.56,3.87],[4.28,3.80],[4.45,3.75],[2.85,3.69],[2.75,3.60],[2.87,3.53],[2.88,3.48],[3.13,3.59],[3.33,3.60],[3.28,3.55],[3.09,3.48],[2.94,3.37],[3.71,3.57],[3.56,3.53],[3.50,3.51],[3.64,3.49],[3.42,3.47],[3.39,3.44],[4.16,3.59],[4.16,3.57],[4.70,3.44],[2.04,3.43],[2.14,3.40],[2.60,3.38],[2.69,3.32],[2.82,3.23],[3.23,3.36],[3.11,3.38],[3.06,3.33],[3.42,3.30],[3.52,3.32],[3.36,3.16],[3.44,3.11],[3.68,3.30],[3.76,3.28],[3.80,3.21],[3.74,3.15],[3.76,3.21],[3.89,3.22],[3.98,3.16],[4.12,3.12],[4.36,3.23],[4.67,3.19],[4.29,3.06],[4.06,2.94],[4.31,2.88],[4.19,2.80],[3.77,3.01],[3.73,2.91],[3.85,2.95],[3.82,2.96],[3.44,2.92],[3.47,2.77],[3.46,2.73],[3.43,2.62],[3.63,2.64],[3.28,2.70],[3.24,2.65],[3.21,2.56],[4.17,2.48],[4.17,2.05],[3.31,2.32],[3.24,2.30],[3.09,2.32],[3.03,2.17],[3.16,2.12],[2.91,1.92],[2.80,1.67],[2.73,1.85],[2.62,1.80],[2.47,1.87],[2.47,1.84],[2.42,1.64],[2.44,1.62],[2.29,1.70],[2.24,1.56],[2.18,1.43],[2.29,1.43],[1.95,1.37],[2.01,1.37],[1.80,1.27],[1.58,1.08],[1.60,1.05],[1.51,1.08],[1.38,1.10],[1.01,0.94],[0.84,0.88],[0.59,0.91],[0.56,0.98],[0.68,1.11],[0.72,1.22],[0.72,1.38],[0.77,1.34],[0.89,1.45],[0.91,1.84],[1.01,1.69],[1.14,1.73],[1.35,2.71],[1.58,2.60],[1.36,2.30],[1.46,2.26],[1.48,2.21],[1.56,2.40],[1.57,2.39],[1.40,2.12],[1.33,2.00],[1.30,1.85],[1.67,2.33],[1.92,3.07],[2.07,2.78],[1.99,2.76],[1.90,2.67],[1.84,2.64],[2.05,2.60],[2.29,3.13],[2.46,3.10],[2.47,3.09],[2.62,3.01],[2.44,2.97],[2.29,2.77],[2.37,2.80],[1.82,2.44],
[5.54,4.96],[6.09,4.97],[6.42,4.96],[5.64,4.88],[5.53,4.84],[6.16,4.76],[6.42,4.55],[5.98,4.29],[5.45,4.54],[5.33,4.53],[5.26,4.33],[5.38,3.89],[5.41,3.07],
[0.70,1.00],[0.80,0.98],[0.90,1.01],[1.00,0.99],[1.35,1.02],[1.45,1.00],[1.55,1.03],
[0.75,1.10],[0.85,1.08],[0.95,1.11],[1.05,1.09],[1.15,1.12],[1.25,1.09],[1.35,1.11],[1.45,1.09],[1.50,1.12],
[0.82,1.20],[0.92,1.18],[1.02,1.21],[1.12,1.19],[1.22,1.21],[1.32,1.18],[1.42,1.20],[1.52,1.18],[1.62,1.21],
[0.88,1.30],[0.98,1.28],[1.08,1.31],[1.18,1.29],[1.28,1.31],[1.38,1.28],[1.48,1.30],[1.58,1.28],[1.68,1.31],[1.76,1.29],
[0.92,1.40],[1.02,1.38],[1.12,1.41],[1.22,1.39],[1.32,1.41],[1.42,1.38],[1.52,1.40],[1.62,1.38],[1.72,1.41],[1.82,1.39],
[0.95,1.50],[1.05,1.48],[1.15,1.51],[1.25,1.49],[1.35,1.51],[1.45,1.48],[1.55,1.50],[1.65,1.48],[1.75,1.51],[1.85,1.49],
[0.98,1.60],[1.08,1.58],[1.18,1.61],[1.28,1.59],[1.38,1.61],[1.48,1.58],[1.58,1.60],[1.68,1.58],[1.78,1.61],[1.88,1.59],[1.98,1.61],[2.04,1.58],
[1.02,1.70],[1.12,1.68],[1.22,1.71],[1.32,1.69],[1.42,1.71],[1.52,1.68],[1.62,1.70],[1.72,1.68],[1.82,1.71],[1.92,1.69],[2.02,1.71],[2.12,1.68],
[1.27,1.80],[1.37,1.78],[1.47,1.81],[1.57,1.79],[1.67,1.81],[1.77,1.78],[1.87,1.80],[1.97,1.78],[2.07,1.81],[2.16,1.79],
[1.30,1.90],[1.40,1.88],[1.50,1.91],[1.60,1.89],[1.70,1.91],[1.80,1.88],[1.90,1.90],[2.00,1.88],[2.10,1.91],[2.20,1.89],[2.30,1.91],[2.42,1.89],
[1.42,2.00],[1.52,1.98],[1.62,2.01],[1.72,1.99],[1.82,2.01],[1.92,1.98],[2.02,2.00],[2.12,1.98],[2.22,2.01],[2.32,1.99],[2.42,2.01],[2.52,1.98],[2.58,2.01],
[1.60,2.10],[1.70,2.08],[1.80,2.11],[1.90,2.09],[2.00,2.11],[2.10,2.08],[2.20,2.10],[2.30,2.08],[2.40,2.11],[2.50,2.09],[2.60,2.11],[2.68,2.08],
[1.70,2.20],[1.80,2.18],[1.90,2.21],[2.00,2.19],[2.10,2.21],[2.20,2.18],[2.30,2.20],[2.40,2.18],[2.50,2.21],[2.60,2.19],[2.70,2.21],[2.80,2.19],
[1.85,2.30],[1.95,2.28],[2.05,2.31],[2.15,2.29],[2.25,2.31],[2.35,2.28],[2.45,2.30],[2.55,2.28],[2.65,2.31],[2.75,2.29],[2.85,2.31],[2.90,2.28],
[1.90,2.42],[2.00,2.40],[2.20,2.43],[2.30,2.41],[2.40,2.43],[2.50,2.40],[2.60,2.42],[2.70,2.40],[2.80,2.43],[2.90,2.41],
[2.16,2.52],[2.26,2.50],[2.36,2.53],[2.46,2.51],[2.56,2.53],[2.66,2.50],[2.76,2.52],[2.86,2.50],[2.96,2.53],[3.05,2.51],
[2.22,2.62],[2.32,2.60],[2.42,2.63],[2.52,2.61],[2.62,2.63],[2.72,2.60],[2.82,2.62],[2.92,2.60],[3.02,2.63],[3.08,2.61],
[2.40,2.74],[2.50,2.72],[2.60,2.75],[2.70,2.73],[2.80,2.75],[2.90,2.72],[3.00,2.74],[3.06,2.72],
[2.50,2.85],[2.60,2.83],[2.70,2.86],[2.80,2.84],[2.90,2.86],[3.00,2.83],
[2.70,2.96],[2.80,2.94],[2.90,2.97],[3.00,2.95],[2.74,3.05],[2.84,3.03],[2.94,3.05],[2.98,3.16],[3.08,3.14]
];
const pointsCCore=[
[0.80,1.05],[0.90,1.05],[1.00,1.06],[1.10,1.03],[1.40,1.05],[1.50,1.06],
[0.80,1.15],[0.90,1.15],[1.00,1.16],[1.10,1.15],[1.20,1.16],[1.30,1.15],[1.40,1.15],
[0.87,1.25],[0.97,1.25],[1.07,1.26],[1.17,1.24],[1.27,1.25],[1.37,1.24],[1.47,1.25],[1.55,1.24],
[0.95,1.35],[1.05,1.35],[1.15,1.36],[1.25,1.34],[1.35,1.35],[1.45,1.34],[1.55,1.35],[1.65,1.34],
[1.00,1.45],[1.10,1.45],[1.20,1.46],[1.30,1.44],[1.40,1.45],[1.50,1.44],[1.60,1.45],[1.70,1.44],[1.80,1.46],
[1.05,1.55],[1.15,1.55],[1.25,1.56],[1.35,1.54],[1.45,1.55],[1.55,1.54],[1.65,1.55],[1.75,1.54],[1.85,1.56],[1.95,1.55],
[1.10,1.65],[1.20,1.65],[1.30,1.66],[1.40,1.64],[1.50,1.65],[1.60,1.64],[1.70,1.65],[1.80,1.64],[1.90,1.66],[2.00,1.65],
[1.30,1.75],[1.40,1.75],[1.50,1.76],[1.60,1.74],[1.70,1.75],[1.80,1.74],[1.90,1.75],[2.00,1.74],[2.10,1.76],
[1.35,1.85],[1.45,1.85],[1.55,1.86],[1.65,1.84],[1.75,1.85],[1.85,1.84],[1.95,1.85],[2.05,1.84],[2.15,1.86],[2.25,1.85],
[1.47,1.95],[1.57,1.95],[1.67,1.96],[1.77,1.94],[1.87,1.95],[1.97,1.94],[2.07,1.95],[2.17,1.94],[2.27,1.96],[2.37,1.95],[2.47,1.95],
[1.65,2.05],[1.75,2.05],[1.85,2.06],[1.95,2.04],[2.05,2.05],[2.15,2.04],[2.25,2.05],[2.35,2.04],[2.45,2.06],[2.55,2.05],
[1.75,2.15],[1.85,2.15],[1.95,2.16],[2.05,2.14],[2.15,2.15],[2.25,2.14],[2.35,2.15],[2.45,2.14],[2.55,2.16],[2.65,2.15],
[1.90,2.25],[2.00,2.25],[2.10,2.26],[2.20,2.24],[2.30,2.25],[2.40,2.24],[2.50,2.25],[2.60,2.24],[2.70,2.26],[2.80,2.25],
[2.15,2.36],[2.25,2.35],[2.35,2.36],[2.45,2.35],[2.55,2.36],[2.65,2.35],[2.75,2.36],[2.85,2.35],
[2.25,2.47],[2.35,2.46],[2.45,2.47],[2.55,2.46],[2.65,2.47],[2.75,2.46],[2.85,2.47],
[2.30,2.57],[2.40,2.56],[2.50,2.57],[2.60,2.56],[2.70,2.57],[2.80,2.56],[2.90,2.57],
[2.47,2.68],[2.57,2.67],[2.67,2.68],[2.77,2.67],[2.87,2.68],[2.97,2.67],
[2.55,2.80],[2.65,2.79],[2.75,2.80],[2.85,2.79],[2.95,2.80],[2.75,2.90],[2.85,2.90],[2.95,2.90]
];

const pointsD=[
[4.38,5.20],[4.88,5.27],[4.84,5.04],[4.66,4.97],[4.94,4.90],[3.69,4.82],[4.13,4.74],[3.80,4.63],[4.65,4.66],[4.47,4.57],[4.88,4.67],[4.82,4.53],[5.03,4.55],[4.35,4.46],[4.03,4.51],[3.98,4.40],[3.89,4.39],[4.14,4.39],[4.63,4.40],[5.09,4.28],[3.92,4.21],[3.99,4.21],[3.97,4.17],[3.99,4.10],[4.54,4.20],[4.67,4.16],[3.50,4.16],[3.34,4.08],[3.56,4.03],[3.13,4.04],[3.32,3.93],[3.77,4.05],[4.16,4.04],[4.32,4.00],[4.52,3.99],[4.37,3.86],[4.46,3.80],[4.33,3.72],[4.45,3.67],[4.67,3.81],[3.10,3.74],[3.33,3.71],[3.46,3.77],[3.63,3.78],[3.70,3.72],[3.76,3.72],[3.70,3.69],[3.94,3.71],[4.05,3.66],[3.84,3.62],[3.91,3.54],[3.66,3.56],[3.75,3.48],[3.85,3.51],[4.19,3.51],[3.98,3.38],[2.85,3.65],[2.82,3.57],[2.88,3.51],[3.17,3.54],[3.16,3.53],[2.14,3.58],[2.41,3.51],[2.61,3.48],[2.60,3.44],[2.73,3.41],[2.56,3.28],[2.99,3.44],[3.05,3.45],[3.04,3.39],[3.07,3.35],[2.89,3.33],[3.20,3.32],[3.30,3.38],[3.44,3.41],[3.49,3.34],[4.28,3.31],[4.29,3.29],[4.31,3.20],[4.70,3.26],[3.71,3.28],[3.81,3.24],[3.86,3.14],[3.61,3.15],[3.59,3.09],[3.73,3.10],[3.74,3.07],[3.71,3.13],[3.71,2.94],[3.44,3.10],[3.43,3.18],[3.28,3.15],[3.36,2.96],[4.17,3.01],[4.06,2.96],[4.17,2.82],[4.12,2.69],[1.90,3.21],[2.05,3.15],[2.29,3.06],[2.40,3.06],[2.46,3.07],[2.45,3.07],[2.60,3.08],[2.74,3.19],[2.87,3.24],[3.01,3.21],[3.08,3.21],[2.55,2.96],[2.00,2.86],[1.91,2.75],[1.90,2.63],[2.13,2.64],[2.27,2.89],[2.22,2.82],[2.16,2.79],[2.24,2.71],[2.26,2.58],[3.47,2.80],[3.43,2.69],[3.63,2.56],[3.29,2.62],[3.25,2.56],[3.26,2.60],[3.46,2.40],[3.43,2.35],[4.17,2.21],[3.22,2.09],[3.16,1.93],[3.03,2.22],[3.02,2.42],[2.88,2.35],[2.88,2.21],[2.83,2.08],[2.90,2.02],[2.91,1.94],[2.73,1.91],[2.83,1.82],[2.58,2.09],[2.55,1.80],[2.62,1.71],[2.24,1.60],[2.31,1.55],[2.44,1.41],[2.29,1.36],[2.41,1.23],[1.85,1.34],[2.01,1.46],[1.30,0.96],[1.50,1.07],[1.59,1.14],[0.57,0.99],[0.56,0.98],[0.73,0.99],[0.83,0.94],[0.95,0.93],[0.72,1.23],[0.76,1.34],[0.88,1.43],[1.36,2.61],[0.91,1.77],[1.01,1.78],[1.13,1.77],[1.15,1.90],[1.20,1.75],[0.95,1.55],[1.04,1.58],[1.34,2.09],[1.54,2.30],[1.59,2.27],[1.65,2.44],[1.81,2.42],[1.45,2.15],
[6.42,5.34],[6.09,5.33],[5.53,5.28],[6.17,5.00],[6.41,4.89],[5.98,4.72],[5.63,4.68],[5.54,4.83],[5.44,4.70],[5.38,4.64],[5.33,4.56],[5.26,4.53],[5.11,4.27],[5.41,4.05],
[0.76,1.02],[0.86,1.00],[0.96,1.03],[1.06,1.01],[1.16,1.04],[1.24,1.02],
[0.80,1.12],[0.90,1.10],[1.00,1.13],[1.10,1.11],[1.20,1.13],[1.30,1.10],[1.40,1.12],[1.50,1.10],
[0.90,1.22],[1.00,1.20],[1.10,1.23],[1.20,1.21],[1.30,1.23],[1.40,1.20],[1.50,1.22],[1.58,1.20],
[0.96,1.32],[1.06,1.30],[1.16,1.33],[1.26,1.31],[1.36,1.33],[1.46,1.30],[1.56,1.32],[1.65,1.30],
[1.00,1.42],[1.10,1.40],[1.20,1.43],[1.30,1.41],[1.40,1.43],[1.50,1.40],[1.60,1.42],[1.70,1.40],[1.80,1.43],[1.90,1.41],
[1.02,1.52],[1.12,1.50],[1.22,1.53],[1.32,1.51],[1.42,1.53],[1.52,1.50],[1.62,1.52],[1.72,1.50],[1.82,1.53],[1.92,1.51],[1.98,1.53],
[1.08,1.62],[1.28,1.60],[1.38,1.63],[1.48,1.61],[1.58,1.63],[1.68,1.60],[1.78,1.62],[1.88,1.60],[1.98,1.63],[2.03,1.61],
[1.28,1.72],[1.38,1.70],[1.48,1.73],[1.58,1.71],[1.68,1.73],[1.78,1.70],[1.88,1.72],[1.98,1.70],[2.03,1.73],
[1.33,1.82],[1.43,1.80],[1.53,1.83],[1.63,1.81],[1.73,1.83],[1.83,1.80],[1.93,1.82],[2.03,1.80],[2.13,1.83],[2.23,1.81],[2.38,1.84],[2.42,1.87],
[1.40,1.92],[1.50,1.90],[1.60,1.93],[1.70,1.91],[1.80,1.93],[1.90,1.90],[2.00,1.92],[2.10,1.90],[2.20,1.93],[2.30,1.91],[2.40,1.93],[2.50,1.90],
[1.43,2.02],[1.53,2.00],[1.63,2.03],[1.73,2.01],[1.83,2.03],[1.93,2.00],[2.03,2.02],[2.13,2.00],[2.23,2.03],[2.33,2.01],[2.43,2.03],[2.52,2.00],
[1.50,2.11],[1.60,2.10],[1.70,2.13],[1.80,2.11],[1.90,2.13],[2.00,2.10],[2.10,2.12],[2.20,2.10],[2.30,2.13],[2.40,2.11],[2.50,2.13],
[1.65,2.22],[1.75,2.20],[1.85,2.23],[1.95,2.21],[2.05,2.23],[2.15,2.20],[2.25,2.22],[2.35,2.20],[2.60,2.23],[2.70,2.21],
[1.72,2.32],[1.82,2.30],[1.92,2.33],[2.02,2.31],[2.12,2.33],[2.22,2.30],[2.32,2.32],[2.42,2.30],[2.52,2.33],[2.62,2.31],[2.72,2.33],
[1.93,2.43],[2.03,2.41],[2.33,2.44],[2.43,2.42],[2.53,2.44],[2.63,2.41],[2.73,2.43],[2.78,2.41],
[1.98,2.53],[2.05,2.55],[2.37,2.54],[2.47,2.52],[2.57,2.55],[2.67,2.53],[2.77,2.55],[2.87,2.52],[2.97,2.54],[3.02,2.57],
[2.40,2.65],[2.50,2.63],[2.60,2.66],[2.70,2.64],[2.80,2.66],[2.90,2.63],[3.00,2.65],[3.10,2.63],[3.14,2.68],
[2.38,2.78],[2.48,2.76],[2.58,2.79],[2.66,2.77],[2.78,2.79],[2.88,2.76],[2.98,2.78],[3.08,2.76],
[2.48,2.90],[2.60,2.88],[2.76,2.91],[2.86,2.89],[2.96,2.91],[3.02,2.88],
[2.66,3.00],[2.76,3.02],[3.04,3.03],[3.08,3.00]
];
const pointsDCore=[
[0.85,1.07],[0.95,1.07],[1.05,1.08],[1.15,1.06],[1.25,1.07],[1.35,1.06],
[0.95,1.17],[1.05,1.17],[1.15,1.18],[1.25,1.16],[1.35,1.17],[1.45,1.16],
[1.01,1.27],[1.11,1.27],[1.21,1.28],[1.31,1.26],[1.41,1.27],[1.51,1.26],
[1.05,1.37],[1.15,1.37],[1.25,1.38],[1.35,1.36],[1.45,1.37],[1.55,1.36],
[1.10,1.47],[1.20,1.47],[1.30,1.48],[1.40,1.46],[1.50,1.47],[1.60,1.46],[1.70,1.47],[1.80,1.46],[1.88,1.48],
[1.17,1.57],[1.27,1.57],[1.37,1.58],[1.47,1.56],[1.57,1.57],[1.67,1.56],[1.77,1.57],[1.87,1.56],[1.95,1.58],
[1.32,1.67],[1.42,1.67],[1.52,1.68],[1.62,1.66],[1.72,1.67],[1.82,1.66],[1.92,1.67],[1.98,1.66],
[1.35,1.77],[1.45,1.77],[1.55,1.78],[1.65,1.76],[1.75,1.77],[1.85,1.76],[1.95,1.77],[2.02,1.76],
[1.40,1.87],[1.50,1.87],[1.60,1.88],[1.70,1.86],[1.80,1.87],[1.90,1.86],[2.00,1.87],[2.10,1.86],[2.20,1.88],
[1.46,1.97],[1.56,1.97],[1.66,1.98],[1.76,1.96],[1.86,1.97],[1.96,1.96],[2.06,1.97],[2.16,1.96],[2.26,1.98],[2.36,1.97],[2.46,1.97],
[1.50,2.07],[1.60,2.07],[1.70,2.08],[1.80,2.06],[1.90,2.07],[2.00,2.06],[2.10,2.07],[2.20,2.06],[2.30,2.08],[2.40,2.07],
[1.70,2.16],[1.80,2.17],[1.90,2.18],[2.00,2.16],[2.10,2.17],[2.20,2.16],[2.30,2.17],[2.40,2.16],
[1.78,2.27],[1.88,2.26],[1.98,2.27],[2.08,2.26],[2.18,2.27],[2.28,2.26],[2.38,2.27],[2.62,2.27],[2.70,2.26],
[2.40,2.37],[2.50,2.38],[2.60,2.37],[2.70,2.38],[2.42,2.48],[2.52,2.49],[2.62,2.48],[2.72,2.49],[2.82,2.48],
[2.47,2.60],[2.57,2.59],[2.67,2.60],[2.77,2.59],[2.87,2.60],[2.97,2.59],
[2.72,2.72],[2.82,2.71],[2.92,2.72],[3.02,2.71],[2.76,2.83],[2.86,2.82],[2.94,2.83]
];

const panelIds=['panel-a','panel-b','panel-c','panel-d'];
const panelPoints=[pointsA.concat(pointsACore),pointsB.concat(pointsBCore),pointsC.concat(pointsCCore),pointsD.concat(pointsDCore)];
const panelFits=[fitYA,fitYB,fitYC,fitYD];

const SVGNS='http://www.w3.org/2000/svg';
function sx(v){return 170+169*v;}
function sy(v){return 1227-169.1*v;}
function mk(tag,attrs,parent){
  const el=document.createElementNS(SVGNS,tag);
  for(const k in attrs){el.setAttribute(k,attrs[k]);}
  parent.appendChild(el);
  return el;
}

panelIds.forEach(function(id,p){
  const g=document.querySelector('#'+id+' .under');
  const points=panelPoints[p];
  const fitY=panelFits[p];

  xTickLabels.forEach(function(v){
    const el=mk('line',{x1:sx(v),x2:sx(v),y1:1229,y2:43,stroke:'#d7d7d7','stroke-width':6.5,'stroke-dasharray':'22 9'},g);
    
    
  });
  yTickLabels.forEach(function(v){
    const el=mk('line',{x1:167,x2:1353,y1:sy(v),y2:sy(v),stroke:'#d7d7d7','stroke-width':6.5,'stroke-dasharray':'22 9'},g);
    
    
  });

  const id1=mk('line',{x1:sx(identityLine[0]),y1:sy(identityLine[0]),x2:sx(identityLine[1]),y2:sy(identityLine[1]),stroke:'#555','stroke-width':6.5,'stroke-dasharray':'22 9'},g);
  
  

  const pts=mk('g',{},g);
  
  
  points.forEach(function(d){
    const c=mk('circle',{cx:sx(d[0]).toFixed(1),cy:sy(d[1]).toFixed(1),r:10.3,fill:'#3c77b1','fill-opacity':0.6,stroke:'#3c77b1','stroke-opacity':0.6,'stroke-width':6.2},pts);
    
    
  });

  const fit=mk('line',{x1:sx(fitX[0]),y1:sy(fitY[0]),x2:sx(fitX[1]),y2:sy(fitY[1]),stroke:'#e57442','stroke-width':9.3},g);
  
  

  const frame=mk('rect',{x:168,y:43,width:1186.5,height:1186,fill:'none',stroke:'#000','stroke-width':7},g);
  
  

  xTickLabels.forEach(function(v){
    const t=mk('line',{x1:sx(v),x2:sx(v),y1:1229,y2:1243,stroke:'#000','stroke-width':6.5},g);
    
    
    const l=mk('text',{x:sx(v),y:1295.5,'text-anchor':'middle','font-size':60},g);
    l.textContent=String(v);
    
    
  });
  yTickLabels.forEach(function(v){
    const t=mk('line',{x1:155,x2:168,y1:sy(v),y2:sy(v),stroke:'#000','stroke-width':6.5},g);
    
    
    const l=mk('text',{x:144,y:sy(v)+21,'text-anchor':'end','font-size':60},g);
    l.textContent=String(v);
    
    
  });
});
</script>
</body>
</html>
